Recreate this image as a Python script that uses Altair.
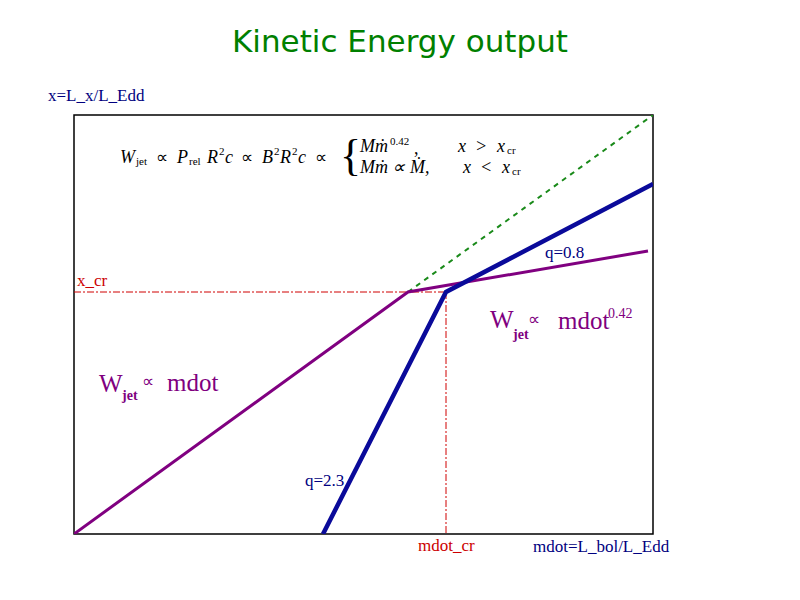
import altair as alt
import pandas as pd

# ---- data (arbitrary linear units) ----
purple_x = [0, 334, 574]
purple_y = [0, 242, 283]
blue_x = [249, 372, 579]
blue_y = [0, 242, 350]
green_x = [334, 579]
green_y = [242, 419]
x_cr = 242
mdot_cr = 372

XS = alt.Scale(domain=[0, 579], nice=False, zero=False)
YS = alt.Scale(domain=[0, 419], nice=False, zero=False)


def line_layer(xs, ys, color, width, dash=None):
    df = pd.DataFrame({"x": xs, "y": ys, "o": list(range(len(xs)))})
    kw = dict(color=color, strokeWidth=width, clip=True, strokeCap="butt")
    if dash:
        kw["strokeDash"] = dash
    return alt.Chart(df).mark_line(**kw).encode(
        x=alt.X("x:Q", scale=XS, axis=None),
        y=alt.Y("y:Q", scale=YS, axis=None),
        order="o:Q",
    )


def text_layer(rows, **kw):
    df = pd.DataFrame(rows, columns=["x", "y", "t"])
    base = dict(align="left", baseline="middle")
    base.update(kw)
    return alt.Chart(df).mark_text(**base).encode(
        x=alt.X("x:Q", scale=XS, axis=None),
        y=alt.Y("y:Q", scale=YS, axis=None),
        text="t:N",
    )


# red dash-dot guides
guide_df = pd.DataFrame({
    "x": [0, mdot_cr, mdot_cr, mdot_cr],
    "y": [x_cr, x_cr, x_cr, 0],
    "seg": ["h", "h", "v", "v"],
})
guides = alt.Chart(guide_df).mark_line(
    color="#d00000", strokeWidth=1, strokeDash=[7, 2, 2, 2]
).encode(
    x=alt.X("x:Q", scale=XS, axis=None),
    y=alt.Y("y:Q", scale=YS, axis=None),
    detail="seg:N",
)

green = line_layer(green_x, green_y, "#1a8a1a", 2, [5, 5])
purple = line_layer(purple_x, purple_y, "#800080", 3)
blue = line_layer(blue_x, blue_y, "#0a0a9a", 4.5)

SERIF = "Liberation Serif"

title = text_layer([(326, 491, "Kinetic Energy output")], align="center",
                   font="DejaVu Sans", fontSize=31, color="#008000")

navy = text_layer([
    (-26, 438, "x=L_x/L_Edd"),
    (459, -13, "mdot=L_bol/L_Edd"),
    (471, 281, "q=0.8"),
    (231, 53, "q=2.3"),
], font=SERIF, fontSize=17, color="#000080")

red = text_layer([
    (3, 253, "x_cr"),
    (344, -12, "mdot_cr"),
], font=SERIF, fontSize=17, color="#cc0000")

pur_big = text_layer([
    (416, 214, "W"), (484, 213, "mdot"),
    (25, 150, "W"), (93, 151, "mdot"),
], font=SERIF, fontSize=25, color="#800080")
pur_prop = text_layer([
    (454, 214, "∝"), (68, 152, "∝"),
], font=SERIF, fontSize=17, color="#800080")
pur_sub = text_layer([
    (439, 199, "jet"), (48, 138, "jet"),
], font=SERIF, fontSize=14, fontWeight="bold", color="#800080")
pur_sup = text_layer([(534, 220, "0.42")], font=SERIF, fontSize=14, color="#800080")

# formula
f_it = text_layer([
    (46, 376, "W"), (103, 376, "P"), (133, 376, "R"), (151, 376, "c"),
    (188, 376, "B"), (206, 376, "R"), (224, 376, "c"),
    (286, 387, "Mṁ"),
    (384, 387, "x"), (401, 387, ">"), (423, 387, "x"),
    (286, 366, "Mṁ ∝ Ṁ,"),
    (389, 366, "x"), (406, 366, "<"), (428, 366, "x"),
], font=SERIF, fontSize=18, fontStyle="italic", color="black")
f_comma = text_layer([(340, 385, ",")], font=SERIF, fontSize=18, color="black")
f_rel = text_layer([
    (82, 376, "∝"), (167, 376, "∝"), (241, 376, "∝"),
], font=SERIF, fontSize=17, color="black")
f_small = text_layer([
    (62, 372, "jet"), (115, 372, "rel"),
    (145, 382, "2"), (200, 382, "2"), (218, 382, "2"),
    (316, 392, "0.42"), (433, 383, "cr"), (438, 362, "cr"),
], font=SERIF, fontSize=11, color="black")
brace = text_layer([(266, 377, "{")], font=SERIF, fontSize=44,
                   fontWeight="normal", color="black")

chart = alt.layer(
    guides, green, purple, blue,
    title, navy, red, pur_big, pur_prop, pur_sub, pur_sup,
    f_it, f_comma, f_rel, f_small, brace,
).properties(
    width=579, height=419,
    autosize="none",
    padding={"left": 66, "top": 107, "right": 139, "bottom": 58},
    background="white",
).configure_view(stroke="black", strokeWidth=1.5)

chart.save("out.html", embed_options={"renderer": "svg", "actions": False})
